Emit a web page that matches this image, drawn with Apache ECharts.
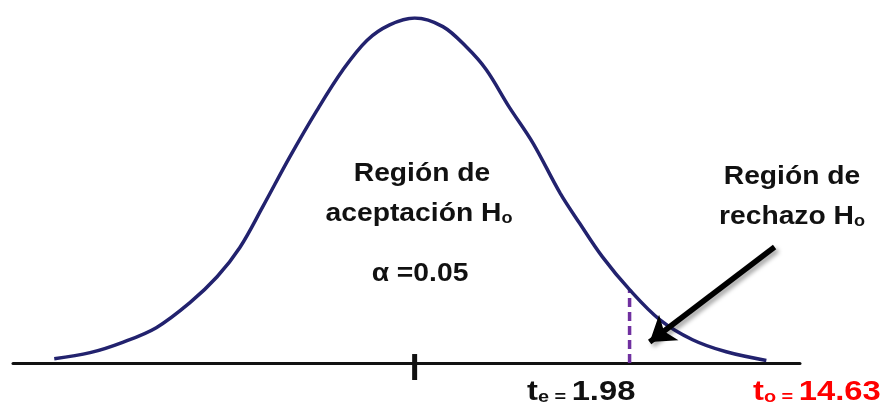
<!DOCTYPE html>
<html>
<head>
<meta charset="utf-8">
<script src="https://cdn.jsdelivr.net/npm/echarts@6/dist/echarts.min.js"></script>
<style>
  html, body { margin: 0; padding: 0; background: #fff; }
  #chart { width: 882px; height: 403px; }
</style>
</head>
<body>
<div id="chart"></div>
<script>
// Bell curve (t units across, density up)
const curveX = [-3.32, -2.99, -2.69, -2.38, -2.07, -1.82, -1.61, -1.40, -1.15, -0.90, -0.66, -0.44, -0.23, 0.0,
  0.26, 0.48, 0.66, 0.87, 1.09, 1.34, 1.52, 1.73, 1.98, 2.26, 2.56, 2.87, 3.24];
const curveY = [0.005, 0.012, 0.024, 0.041, 0.070, 0.100, 0.134, 0.181, 0.239, 0.293, 0.340, 0.374, 0.392, 0.400,
  0.390, 0.366, 0.340, 0.297, 0.255, 0.197, 0.162, 0.123, 0.085, 0.050, 0.027, 0.013, 0.003];

// critical value marker (dashed) and centre tick
const critX = [1.98, 1.98];
const critY = [0, 0.085];
const tickX = [0, 0];
const tickY = [0.0104, -0.0197];

// arrow pointing at the rejection region
const arrowFrom = [3.316, 0.1345];
const arrowTo = [2.165, 0.0243];

const FONT = '"Liberation Sans", Arial, sans-serif';

const chart = echarts.init(document.getElementById('chart'));

function label(text, x, y, size, color, scaleX, align) {
  return {
    type: 'text',
    x: x,
    y: y,
    scaleX: scaleX,
    silent: true,
    style: {
      text: text,
      fill: color,
      align: align || 'center',
      textAlign: align || 'center',
      verticalAlign: 'bottom',
      textVerticalAlign: 'bottom',
      fontFamily: FONT,
      fontWeight: 'bold',
      fontSize: size,
      rich: {
        m: { fontFamily: FONT, fontWeight: 'bold', fontSize: size, fill: color, color: color, verticalAlign: 'bottom' },
        s: { fontFamily: FONT, fontWeight: 'bold', fontSize: Math.round(size * 0.62), fill: color, color: color, verticalAlign: 'bottom' }
      }
    }
  };
}

const option = {
  backgroundColor: '#ffffff',
  animation: false,
  grid: { left: 13, right: 82, top: 18, bottom: 5.5 },
  xAxis: {
    type: 'value',
    min: -3.7,
    max: 3.55,
    axisLine: { show: true, onZero: true, lineStyle: { color: '#111111', width: 3 } },
    axisTick: { show: false },
    axisLabel: { show: false },
    splitLine: { show: false }
  },
  yAxis: {
    type: 'value',
    min: -0.04,
    max: 0.4,
    show: false
  },
  series: [
    {
      name: 'curve',
      type: 'line',
      data: curveX.map((x, i) => [x, curveY[i]]),
      smooth: 0.35,
      symbol: 'none',
      lineStyle: { color: '#22226e', width: 3.5 },
      z: 3
    },
    {
      name: 'critical',
      type: 'line',
      data: critX.map((x, i) => [x, critY[i]]),
      symbol: 'none',
      lineStyle: { color: '#7030a0', width: 3.5, type: [9, 5] },
      z: 2
    },
    {
      name: 'tick',
      type: 'line',
      data: tickX.map((x, i) => [x, tickY[i]]),
      symbol: 'none',
      clip: false,
      lineStyle: { color: '#111111', width: 5, cap: 'butt' },
      z: 4
    },
    {
      name: 'arrow',
      type: 'lines',
      coordinateSystem: 'cartesian2d',
      symbol: ['none', 'arrow'],
      symbolSize: 24,
      silent: true,
      lineStyle: {
        color: '#000000',
        width: 5.5,
        opacity: 1,
        curveness: 0,
        shadowColor: 'rgba(0,0,0,0.35)',
        shadowBlur: 4,
        shadowOffsetX: 3,
        shadowOffsetY: 3
      },
      data: [{ coords: [arrowFrom, arrowTo] }],
      z: 5
    }
  ],
  graphic: [
    label('{m|Región de}', 422, 187, 25, '#111111', 1.13),
    label('{m|aceptación H}{s|o}', 419, 227, 25, '#111111', 1.13),
    label('{m|α =0.05}', 420, 287, 25, '#111111', 1.13),
    label('{m|Región de}', 792, 190, 25, '#111111', 1.13),
    label('{m|rechazo H}{s|o}', 792, 230, 25, '#111111', 1.13),
    label('{m|t}{s|e = }{m|1.98}', 527, 406, 28, '#111111', 1.17, 'left'),
    label('{m|t}{s|o = }{m|14.63}', 753, 406, 28, '#ff0000', 1.17, 'left')
  ]
};

chart.setOption(option);
</script>
</body>
</html>
